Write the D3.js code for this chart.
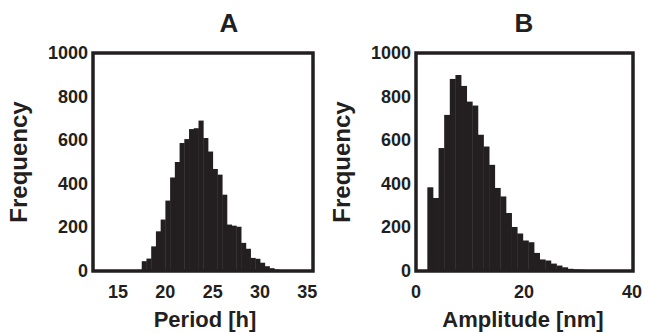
<!DOCTYPE html>
<html>
<head>
<meta charset="utf-8">
<script src="https://cdn.jsdelivr.net/npm/d3@7"></script>
<style>
  body { margin: 0; background: #fff; }
  text { font-family: "Liberation Sans", Arial, sans-serif; font-weight: bold; fill: #231f20; }
</style>
</head>
<body>
<div id="chart"></div>
<script>
// Panel A: period histogram, 0.5 h bins (left edges)
const periodBins = [16.5, 17, 17.5, 18, 18.5, 19, 19.5, 20, 20.5, 21, 21.5, 22, 22.5, 23, 23.5, 24,
  24.5, 25, 25.5, 26, 26.5, 27, 27.5, 28, 28.5, 29, 29.5, 30, 30.5, 31, 31.5, 32, 32.5];
const periodCounts = [2, 5, 45, 57, 113, 182, 236, 323, 429, 500, 587, 605, 651, 655, 690, 610,
  548, 468, 442, 350, 213, 208, 203, 129, 102, 60, 56, 38, 22, 13, 7, 4, 2];
const periodBinW = 0.5;

// Panel B: amplitude histogram
const ampBins = [2.1, 3.14, 4.18, 5.22, 6.26, 7.3, 8.34, 9.38, 10.42, 11.46, 12.5, 13.54, 14.58, 15.62,
  16.66, 17.7, 18.74, 19.78, 20.82, 21.86, 22.9, 23.94, 24.98, 26.02, 27.06, 28.1, 29.14, 30.18, 31.22];
const ampCounts = [384, 335, 564, 716, 881, 899, 849, 777, 759, 625, 571, 487, 381, 342,
  266, 202, 172, 140, 132, 83, 53, 48, 34, 25, 17, 10, 7, 6, 4];
const ampBinW = 1.04;

const yTicks = [0, 200, 400, 600, 800, 1000];
const periodTicks = [15, 20, 25, 30, 35];
const ampTicks = [0, 20, 40];

const W = 648, H = 333;
const plotTop = 53, plotBottom = 271;
const ink = '#231f20';

const svg = d3.select('#chart').append('svg').attr('width', W).attr('height', H);

const y = d3.scaleLinear().domain([0, 1000]).range([plotBottom, plotTop]);

function panel(opts) {
  const x = d3.scaleLinear().domain(opts.domain).range([opts.left, opts.right]);
  const g = svg.append('g');

  // bars
  g.selectAll('rect.bar').data(opts.bins).join('rect')
    .attr('class', 'bar')
    .attr('x', d => x(d))
    .attr('width', d => x(d + opts.binW) - x(d) + 0.4)
    .attr('y', (d, i) => y(opts.counts[i]))
    .attr('height', (d, i) => y(0) - y(opts.counts[i]))
    .attr('fill', ink);

  // frame
  g.append('rect')
    .attr('x', opts.left).attr('y', plotTop)
    .attr('width', opts.right - opts.left).attr('height', plotBottom - plotTop)
    .attr('fill', 'none').attr('stroke', ink).attr('stroke-width', 3.5);

  // y tick labels
  g.selectAll('text.yt').data(yTicks).join('text')
    .attr('class', 'yt')
    .attr('x', opts.left - 5).attr('y', d => y(d) + 6)
    .attr('text-anchor', 'end').attr('font-size', '18px')
    .text(d => d);

  // x tick labels
  g.selectAll('text.xt').data(opts.ticks).join('text')
    .attr('class', 'xt')
    .attr('x', d => x(d)).attr('y', plotBottom + 27)
    .attr('text-anchor', 'middle').attr('font-size', '18px')
    .text(d => d);

  // x axis title
  g.append('text')
    .attr('x', opts.titleX).attr('y', plotBottom + 56)
    .attr('text-anchor', 'middle').attr('font-size', '22px')
    .text(opts.xLabel);

  // y axis title
  g.append('text')
    .attr('transform', `translate(${opts.left - 66},${(plotTop + plotBottom) / 2}) rotate(-90)`)
    .attr('text-anchor', 'middle').attr('font-size', '24px')
    .text('Frequency');

  // panel letter
  g.append('text')
    .attr('x', opts.letterX).attr('y', 32)
    .attr('text-anchor', 'middle').attr('font-size', '26px')
    .text(opts.letter);
}

panel({ left: 93, right: 313, domain: [12.35, 35.6], bins: periodBins, counts: periodCounts,
  binW: periodBinW, ticks: periodTicks, xLabel: 'Period [h]', letter: 'A', titleX: 205, letterX: 229 });
panel({ left: 416, right: 633, domain: [0, 40.2], bins: ampBins, counts: ampCounts,
  binW: ampBinW, ticks: ampTicks, xLabel: 'Amplitude [nm]', letter: 'B', titleX: 523, letterX: 524 });
</script>
</body>
</html>
